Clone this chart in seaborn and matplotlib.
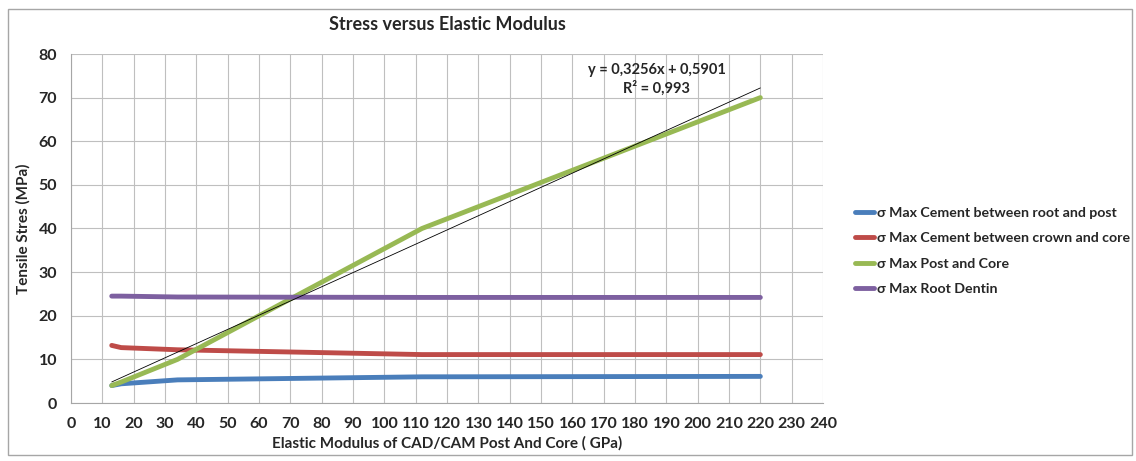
import numpy as np
import pandas as pd
import matplotlib
matplotlib.use("Agg")
import matplotlib.pyplot as plt
import seaborn as sns
from matplotlib.patches import Rectangle

# Elastic modulus of the post and core (GPa)
modulus = [13, 16, 34, 112, 220]

# Max tensile stress (MPa)
root_post = [4.0, 4.4, 5.3, 6.0, 6.1]
crown_core = [13.2, 12.7, 12.2, 11.1, 11.1]
post_core = [4.0, 4.8, 10.0, 40.0, 70.0]
root_dentin = [24.5, 24.5, 24.3, 24.2, 24.2]

series_names = [
    "σ Max Cement between root and post",
    "σ Max Cement between crown and core",
    "σ Max Post and Core",
    "σ Max Root Dentin",
]
series_colors = ["#4a7ebb", "#be4b48", "#98b954", "#7d60a0"]

# linear trendline for the post and core series (as shown on the chart)
trend_slope = 0.3256
trend_intercept = 0.5901
trend_r2 = 0.993

rows = []
for name, vals in zip(series_names, [root_post, crown_core, post_core, root_dentin]):
    for x, y in zip(modulus, vals):
        rows.append({"modulus": x, "stress": y, "series": name})
df = pd.DataFrame(rows)

sns.set_style("white")
plt.rcParams["font.family"] = ["Lato", "DejaVu Sans"]

fig = plt.figure(figsize=(11.36, 4.61), dpi=100)
ax = fig.add_axes([71 / 1136, 1 - 403 / 461, (823 - 71) / 1136, (403 - 54) / 461])

# chart frame
fig.patches.append(Rectangle((8 / 1136, 6 / 461), 1124 / 1136, 446 / 461,
                             transform=fig.transFigure, fill=False,
                             edgecolor="#a6a6a6", linewidth=1.0))

sns.lineplot(data=df, x="modulus", y="stress", hue="series", hue_order=series_names,
             palette=series_colors, linewidth=3.5, ax=ax, legend=True)

# trendline
tx = np.array([modulus[0], modulus[-1]])
ax.plot(tx, trend_slope * tx + trend_intercept, color="black", linewidth=0.6, zorder=5)
ax.text(187, 76.4, f"y = {trend_slope:.4f}x + {trend_intercept:.4f}".replace(".", ","),
        ha="center", va="center", fontsize=10.5, fontweight="bold")
ax.text(187, 72.2, f"R² = {trend_r2:.3f}".replace(".", ","),
        ha="center", va="center", fontsize=10.5, fontweight="bold")

ax.set_xlim(0, 240)
ax.set_ylim(0, 80)
ax.set_xticks(np.arange(0, 241, 10))
ax.set_yticks(np.arange(0, 81, 10))
ax.grid(True, color="#bfbfbf", linewidth=0.8)
ax.set_axisbelow(True)
for side in ["top", "right"]:
    ax.spines[side].set_visible(False)
for side in ["left", "bottom"]:
    ax.spines[side].set_color("#a6a6a6")
ax.tick_params(axis="both", direction="out", length=4, color="#a6a6a6",
               labelsize=11.5, pad=6)
for lbl in ax.get_xticklabels() + ax.get_yticklabels():
    lbl.set_fontweight("bold")

ax.set_xlabel("Elastic Modulus of CAD/CAM Post And Core ( GPa)", fontsize=11,
              fontweight="bold", labelpad=4)
ax.set_ylabel("Tensile Stres (MPa)", fontsize=11, fontweight="bold", labelpad=6)
fig.text(447 / 1136, 1 - 25 / 461, "Stress versus Elastic Modulus", ha="center",
         va="center", fontsize=13, fontweight="bold")

leg = ax.legend(loc="center left", bbox_to_anchor=(1.025, 0.435), frameon=False,
                fontsize=10.2, handlelength=1.4, handletextpad=0.15, labelspacing=0.95)
for t in leg.get_texts():
    t.set_fontweight("bold")

fig.savefig("out.png", dpi=100)
